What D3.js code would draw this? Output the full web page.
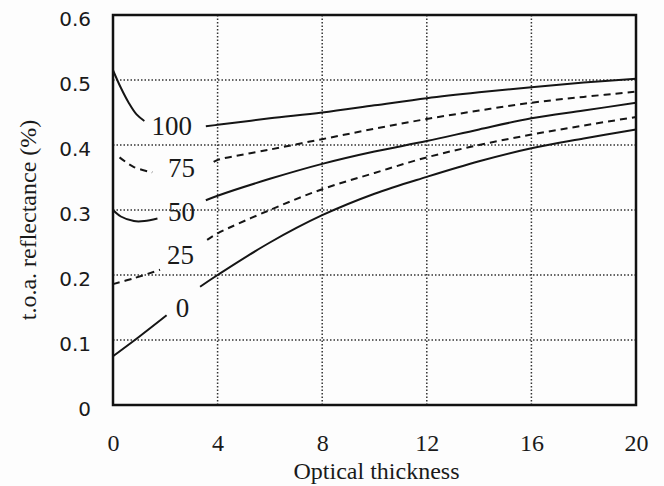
<!DOCTYPE html>
<html>
<head>
<meta charset="utf-8">
<script src="https://cdn.jsdelivr.net/npm/d3@7"></script>
<style>
  body { margin: 0; background: #fdfdfd; }
  svg { display: block; }
</style>
</head>
<body>
<div id="chart"></div>
<script>
// optical thickness ticks / reflectance ticks
var xTicks = [0, 4, 8, 12, 16, 20];
var yTicks = [0, 0.1, 0.2, 0.3, 0.4, 0.5, 0.6];

// each curve is broken where its label sits: [tau, reflectance]
var left100 = [[0, 0.515], [0.3, 0.488], [0.6, 0.465], [0.9, 0.447], [1.2, 0.437]];
var right100 = [[3.55, 0.429], [4, 0.431], [6, 0.441], [8, 0.45], [10, 0.461], [12, 0.472], [14, 0.481], [16, 0.489], [18, 0.496], [20, 0.502]];

var left75 = [[0.25, 0.381], [0.8, 0.366], [1.5, 0.358]];
var right75 = [[3.85, 0.374], [4, 0.377], [6, 0.393], [8, 0.409], [10, 0.425], [12, 0.44], [14, 0.453], [16, 0.465], [18, 0.474], [20, 0.482]];

var left50 = [[0, 0.30], [0.3, 0.29], [0.8, 0.283], [1.2, 0.283], [1.7, 0.287]];
var right50 = [[3.55, 0.315], [4, 0.322], [6, 0.348], [8, 0.371], [10, 0.39], [12, 0.406], [14, 0.424], [16, 0.441], [18, 0.453], [20, 0.465]];

var left25 = [[0, 0.186], [0.8, 0.195], [1.8, 0.208]];
var right25 = [[3.6, 0.254], [4, 0.264], [6, 0.3], [8, 0.332], [10, 0.357], [12, 0.381], [14, 0.4], [16, 0.416], [18, 0.43], [20, 0.443]];

var left0 = [[0, 0.075], [1, 0.105], [2.05, 0.138]];
var right0 = [[3.33, 0.182], [4, 0.2], [6, 0.25], [8, 0.292], [10, 0.325], [12, 0.351], [14, 0.375], [16, 0.395], [18, 0.41], [20, 0.424]];

var curveNames = ["100", "75", "50", "25", "0"];
// where each label ends (tau) and its baseline (reflectance)
var labelTau = [3.02, 3.14, 3.14, 3.1, 2.92];
var labelRefl = [0.415, 0.351, 0.283, 0.217, 0.135];

var curves = [
    {name: "100", dashed: false, parts: [left100, right100]},
    {name: "75", dashed: true, parts: [left75, right75]},
    {name: "50", dashed: false, parts: [left50, right50]},
    {name: "25", dashed: true, parts: [left25, right25]},
    {name: "0", dashed: false, parts: [left0, right0]}
];

var width = 664, height = 486;
var margin = {top: 15, right: 28, bottom: 81, left: 113};
var w = width - margin.left - margin.right,
    h = height - margin.top - margin.bottom;

var svg = d3.select("#chart").append("svg")
    .attr("width", width)
    .attr("height", height);

var g = svg.append("g")
    .attr("transform", "translate(" + margin.left + "," + margin.top + ")");

var x = d3.scaleLinear().domain([0, 20]).range([0, w]);
var y = d3.scaleLinear().domain([0, 0.6]).range([h, 0]);

// dotted grid
g.selectAll(".vgrid")
    .data(xTicks.slice(1, -1))
    .enter().append("line")
    .attr("class", "vgrid")
    .attr("x1", function(d){ return x(d); })
    .attr("x2", function(d){ return x(d); })
    .attr("y1", 0)
    .attr("y2", h)
    .style("stroke", "#333")
    .style("stroke-width", 1.5)
    .style("stroke-dasharray", "1.5,2");

g.selectAll(".hgrid")
    .data(yTicks.slice(1, -1))
    .enter().append("line")
    .attr("class", "hgrid")
    .attr("x1", 0)
    .attr("x2", w)
    .attr("y1", function(d){ return y(d); })
    .attr("y2", function(d){ return y(d); })
    .style("stroke", "#333")
    .style("stroke-width", 1.5)
    .style("stroke-dasharray", "1.5,2");

var line = d3.line()
    .x(function(d){ return x(d[0]); })
    .y(function(d){ return y(d[1]); })
    .curve(d3.curveCatmullRom.alpha(0.5));

curves.forEach(function(c){
    g.selectAll(null)
        .data(c.parts)
        .enter().append("path")
        .attr("d", line)
        .style("fill", "none")
        .style("stroke", "#151515")
        .style("stroke-width", 2)
        .style("stroke-dasharray", c.dashed ? "7,5" : null);
});

// curve labels
g.selectAll(".clabel")
    .data(curveNames)
    .enter().append("text")
    .attr("class", "clabel")
    .attr("x", function(d, i){ return x(labelTau[i]); })
    .attr("y", function(d, i){ return y(labelRefl[i]); })
    .attr("text-anchor", "end")
    .style("font-family", "'Liberation Serif', 'Times New Roman', serif")
    .style("font-size", "27px")
    .style("fill", "#1a1a1a")
    .text(function(d){ return d; });

// frame
g.append("rect")
    .attr("width", w)
    .attr("height", h)
    .style("fill", "none")
    .style("stroke", "#111")
    .style("stroke-width", 2.5);

// axes (labels only)
var xAxis = d3.axisBottom(x).tickValues(xTicks).tickSize(0).tickPadding(29)
    .tickFormat(d3.format("d"));
var yAxis = d3.axisLeft(y).tickValues(yTicks).tickSize(0).tickPadding(22)
    .tickFormat(function(d){ return d === 0 ? "0" : d3.format(".1f")(d); });

var gx = g.append("g")
    .attr("transform", "translate(0," + h + ")")
    .call(xAxis);
gx.select(".domain").remove();
gx.selectAll("text")
    .style("font-family", "'Liberation Serif', 'Times New Roman', serif")
    .style("font-size", "24px")
    .style("fill", "#1a1a1a");

var gy = g.append("g").call(yAxis);
gy.select(".domain").remove();
gy.selectAll("text")
    .attr("dy", "0.5em")
    .style("font-family", "'DejaVu Sans', Verdana, sans-serif")
    .style("font-size", "20px")
    .style("fill", "#1a1a1a");

svg.append("text")
    .attr("x", margin.left + w / 2 + 2)
    .attr("y", 479)
    .attr("text-anchor", "middle")
    .style("font-family", "'Liberation Serif', 'Times New Roman', serif")
    .style("font-size", "24px")
    .style("fill", "#1a1a1a")
    .text("Optical thickness");

svg.append("text")
    .attr("transform", "translate(36," + 220 + ") rotate(-90)")
    .attr("text-anchor", "middle")
    .style("font-family", "'Liberation Serif', 'Times New Roman', serif")
    .style("font-size", "24px")
    .style("fill", "#1a1a1a")
    .text("t.o.a. reflectance (%)");
</script>
</body>
</html>
